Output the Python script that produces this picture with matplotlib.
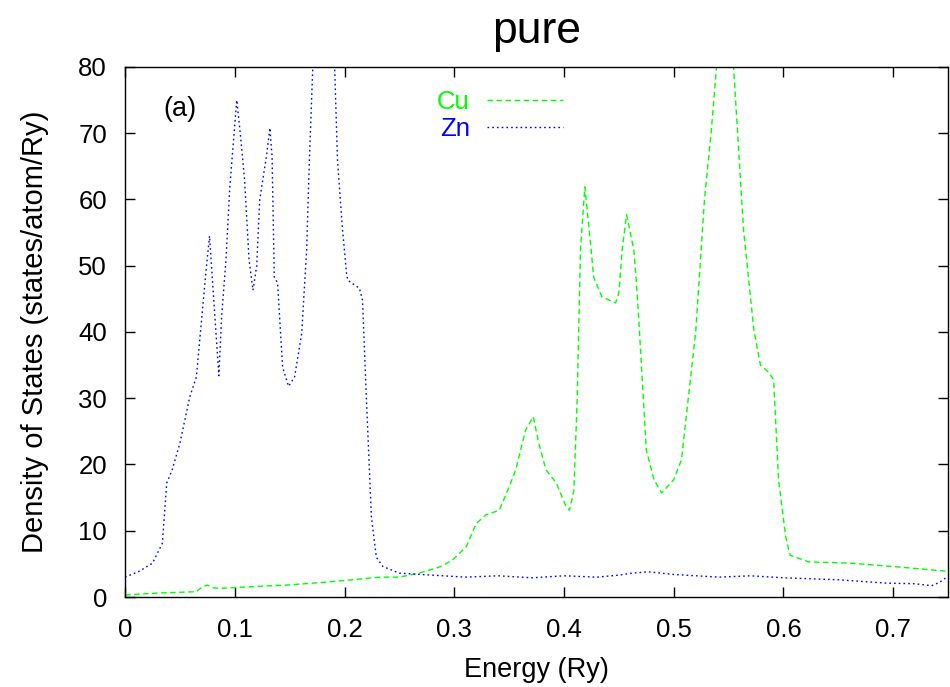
import matplotlib
matplotlib.use("Agg")
import matplotlib.pyplot as plt
import numpy as np

plt.rcParams['font.family'] = ['Liberation Sans', 'DejaVu Sans']

# Zn partial DOS (blue, dotted)
zn_e = [0.0, 0.012, 0.025, 0.034, 0.038, 0.043, 0.05, 0.059, 0.065, 0.07, 0.0745,
        0.077, 0.08, 0.0855, 0.088, 0.092, 0.0955, 0.1018, 0.105, 0.109, 0.113,
        0.1166, 0.12, 0.1227, 0.129, 0.132, 0.134, 0.136, 0.139, 0.1436, 0.149,
        0.1545, 0.161, 0.1655, 0.168, 0.171, 0.175, 0.18, 0.185, 0.191, 0.1936,
        0.198, 0.2018, 0.203, 0.2136, 0.2164, 0.22, 0.2245, 0.229, 0.235, 0.25,
        0.28, 0.31, 0.34, 0.371, 0.40, 0.43, 0.45, 0.462, 0.477, 0.50, 0.541,
        0.57, 0.60, 0.65, 0.693, 0.72, 0.735, 0.742, 0.748]
zn_dos = [3.0, 3.8, 5.1, 8.1, 17.2, 19.2, 23.2, 30.2, 33.2, 42.3, 50.4,
          54.5, 47.0, 33.4, 42.3, 50.9, 61.9, 75.0, 70.0, 62.9, 50.9,
          46.3, 50.0, 59.9, 66.7, 70.8, 66.4, 48.3, 47.4, 34.7, 31.8,
          33.2, 39.8, 52.4, 66.0, 79.5, 90.0, 96.0, 92.0, 80.0, 66.0,
          55.8, 48.9, 47.8, 46.6, 44.8, 29.7, 12.1, 6.0, 4.6, 3.6,
          3.3, 3.0, 3.2, 2.9, 3.2, 3.0, 3.3, 3.6, 3.8, 3.4, 3.0,
          3.2, 2.9, 2.6, 2.1, 2.0, 1.7, 2.2, 2.9]

# Cu partial DOS (green, dashed)
cu_e = [0.0, 0.03, 0.065, 0.07, 0.075, 0.08, 0.086, 0.12, 0.147, 0.18, 0.207,
        0.232, 0.25, 0.268, 0.286, 0.298, 0.311, 0.32, 0.329, 0.341, 0.35,
        0.356, 0.365, 0.372, 0.377, 0.3836, 0.393, 0.402, 0.405, 0.409, 0.412,
        0.415, 0.419, 0.4245, 0.427, 0.4345, 0.447, 0.45, 0.453, 0.457, 0.4636,
        0.466, 0.468, 0.475, 0.482, 0.489, 0.5, 0.507, 0.52, 0.528, 0.534,
        0.539, 0.547, 0.5545, 0.5636, 0.573, 0.579, 0.586, 0.591, 0.5955, 0.602,
        0.606, 0.623, 0.662, 0.707, 0.748]
cu_dos = [0.3, 0.6, 0.8, 1.5, 1.8, 1.4, 1.3, 1.6, 1.8, 2.2, 2.6,
          3.0, 3.0, 3.6, 4.5, 5.5, 7.6, 11.1, 12.4, 13.1, 16.6,
          19.2, 25.2, 27.2, 23.2, 19.2, 17.2, 13.6, 13.1, 16.1, 29.7,
          52.4, 61.9, 52.8, 48.3, 45.3, 44.4, 45.9, 52.4, 57.7, 52.4,
          47.4, 42.3, 22.2, 17.7, 15.7, 17.7, 20.7, 40.0, 60.0, 70.0,
          80.0, 88.0, 80.0, 55.4, 40.3, 35.0, 34.0, 32.8, 17.7, 9.1,
          6.3, 5.3, 5.1, 4.5, 3.9]

x_ticks = [0, 0.1, 0.2, 0.3, 0.4, 0.5, 0.6, 0.7]
x_labels = ['0', '0.1', '0.2', '0.3', '0.4', '0.5', '0.6', '0.7']
y_ticks = [0, 10, 20, 30, 40, 50, 60, 70, 80]

fig = plt.figure(figsize=(9.5, 6.87), dpi=100)
ax = fig.add_axes([0.1316, 0.131, 0.8664, 0.7715])

ax.plot(cu_e, cu_dos, color='#00ff00', ls=(0, (4, 2.5)), lw=1.0, label='Cu')
ax.plot(zn_e, zn_dos, color='#0000ff', ls=(0, (1.2, 2.2)), lw=1.0, label='Zn')

ax.set_xlim(0, 0.75)
ax.set_ylim(0, 80)
ax.set_xticks(x_ticks)
ax.set_xticklabels(x_labels)
ax.set_yticks(y_ticks)
ax.tick_params(direction='in', length=7, width=1, top=True, right=True,
               labelsize=18.5)
ax.tick_params(axis='x', pad=15)
ax.tick_params(axis='y', pad=13)
for s in ax.spines.values():
    s.set_linewidth(1.0)

ax.set_xlabel('Energy (Ry)', fontsize=19.5, labelpad=11)
ax.set_ylabel('Density of States (states/atom/Ry)', fontsize=21, labelpad=21)
ax.set_title('pure', fontsize=32, pad=17)
ax.text(0.046, 0.945, '(a)', transform=ax.transAxes, fontsize=19.5, va='top')

leg = ax.legend(loc='upper right', bbox_to_anchor=(0.532, 0.957), frameon=False,
                markerfirst=False, fontsize=18.5, handlelength=2.96, handletextpad=0.66,
                labelspacing=0.12, borderpad=0, borderaxespad=0,
                labelcolor='linecolor')

fig.savefig('out.png', dpi=100)
